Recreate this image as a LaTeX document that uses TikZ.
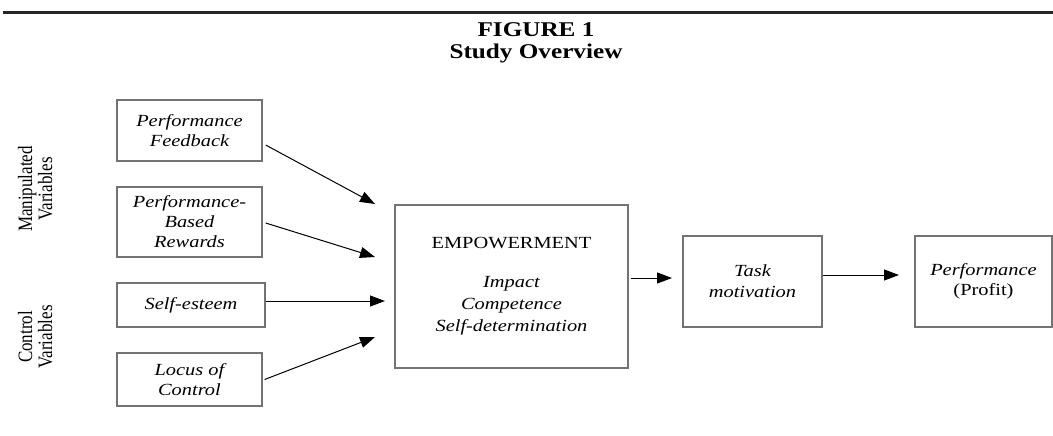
\documentclass[tikz,border=0pt]{standalone}
\usepackage{fontspec}
\usepackage{graphicx}
\setmainfont{Liberation Serif}[FakeStretch=1.2]
\newfontfamily\rotfont{Liberation Serif}
\usetikzlibrary{arrows.meta}
\definecolor{boxgray}{gray}{0.45}
\newcommand{\sidetext}[2]{\scalebox{1.2}[1]{\rotatebox{90}{\rotfont\fontsize{17}{16}\selectfont\begin{tabular}{@{}c@{}}#1\\#2\end{tabular}}}}
\begin{document}
\begin{tikzpicture}[x=1pt,y=-1pt,
  box/.style={draw=boxgray, line width=1.3pt, inner sep=0pt, align=center,
    font=\fontsize{17}{20}\selectfont\itshape},
  link/.style={draw=black, line width=1pt, -{Triangle[length=15pt,width=11pt]}},
  side/.style={inner sep=0pt},
  ttl/.style={anchor=base, font=\bfseries\fontsize{21}{24}\selectfont}]
\useasboundingbox (0,0) rectangle (1053,436);
% top rule
\draw[line width=3pt, black!85] (3,12.5) -- (1053,12.5);
% title
\node[ttl] (fig) at (536,37) {FIGURE 1};
\node[ttl] (sub) at (536,59) {Study Overview};
% side labels
\node[side] (manip) at (38,189) {\sidetext{Manipulated}{Variables}};
\node[side] (ctrl) at (38,337) {\sidetext{Control}{Variables}};
% left boxes
\node[box, minimum width=145pt, minimum height=61pt] (b1) at (189.5,130.5) {Performance\\Feedback};
\node[box, minimum width=145pt, minimum height=70pt] (b2) at (189.5,222) {Performance-\\Based\\Rewards};
\node[box, minimum width=148pt, minimum height=44pt] (b3) at (191,305) {Self-esteem};
\node[box, minimum width=145pt, minimum height=53pt] (b4) at (189.5,379.5) {Locus of\\Control};
% central boxes
\node[box, minimum width=233pt, minimum height=163pt, font=\fontsize{17}{22}\selectfont\itshape] (emp) at (511.5,286.5)
  {{\upshape EMPOWERMENT}\\[17pt]Impact\\Competence\\Self-determination};
\node[box, minimum width=139pt, minimum height=91pt, font=\fontsize{17}{21}\selectfont\itshape] (task) at (752.5,281.5) {Task\\motivation};
\node[box, minimum width=137pt, minimum height=91pt] (perf) at (983.5,281.5) {Performance\\{\upshape(Profit)}};
% arrow tips
\coordinate (tA) at (375,204);
\coordinate (tB) at (375,257);
\coordinate (tC) at (385,301);
\coordinate (tD) at (375,337);
\coordinate (tE) at (672,278);
\coordinate (tF) at (899,275);
% connectors
\draw[link] ([xshift=3pt,yshift=-14.5pt]b1.east) -- (tA);
\draw[link] ([xshift=3pt,yshift=-1pt]b2.east) -- (tB);
\draw[link] ([yshift=4pt]b3.east) -- (tC);
\draw[link] ([xshift=2pt]b4.east) -- (tD);
\draw[link] ([xshift=2pt,yshift=8.5pt]emp.east) -- (tE);
\draw[link] ([yshift=6.5pt]task.east) -- (tF);
\end{tikzpicture}
\end{document}
